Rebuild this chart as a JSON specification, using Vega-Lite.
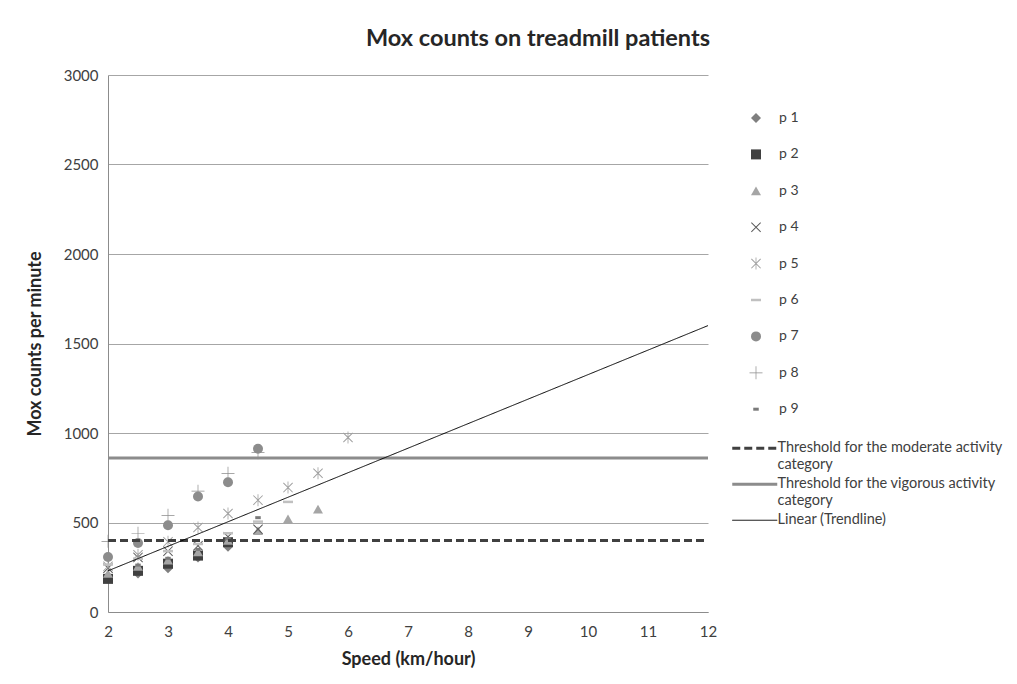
{
  "$schema": "https://vega.github.io/schema/vega-lite/v6.json",
  "autosize": {"type": "none"},
  "padding": {"left": 108, "top": 75, "right": 309, "bottom": 72},
  "width": 600,
  "height": 537,
  "background": "white",
  "config": {
    "view": {"stroke": null},
    "font": "Lato",
    "axis": {"labelFont": "Lato", "titleFont": "Lato", "labelColor": "#404040", "titleColor": "#262626"},
    "legend": {"labelFont": "Lato", "labelColor": "#404040", "labelLimit": 400}
  },
  "title": {
    "text": "Mox counts on treadmill patients",
    "fontSize": 23.5,
    "fontWeight": "bold",
    "font": "Lato",
    "color": "#262626",
    "anchor": "middle",
    "frame": "group",
    "dx": 130,
    "offset": 18
  },
  "datasets": {
    "points": [
      {"patient": "p 1", "speed": 2, "mox": 200},
      {"patient": "p 1", "speed": 2.5, "mox": 215},
      {"patient": "p 1", "speed": 3, "mox": 245},
      {"patient": "p 1", "speed": 3.5, "mox": 305},
      {"patient": "p 1", "speed": 4, "mox": 365},
      {"patient": "p 2", "speed": 2, "mox": 185},
      {"patient": "p 2", "speed": 2.5, "mox": 230},
      {"patient": "p 2", "speed": 3, "mox": 270},
      {"patient": "p 2", "speed": 3.5, "mox": 315},
      {"patient": "p 2", "speed": 4, "mox": 390},
      {"patient": "p 3", "speed": 2, "mox": 215},
      {"patient": "p 3", "speed": 2.5, "mox": 255},
      {"patient": "p 3", "speed": 3, "mox": 290},
      {"patient": "p 3", "speed": 3.5, "mox": 335},
      {"patient": "p 3", "speed": 4, "mox": 400},
      {"patient": "p 3", "speed": 4.5, "mox": 455},
      {"patient": "p 3", "speed": 5, "mox": 520},
      {"patient": "p 3", "speed": 5.5, "mox": 575},
      {"patient": "p 4", "speed": 2, "mox": 245},
      {"patient": "p 4", "speed": 2.5, "mox": 305},
      {"patient": "p 4", "speed": 3, "mox": 340},
      {"patient": "p 4", "speed": 3.5, "mox": 370},
      {"patient": "p 4", "speed": 4, "mox": 420},
      {"patient": "p 4", "speed": 4.5, "mox": 462},
      {"patient": "p 5", "speed": 2, "mox": 255},
      {"patient": "p 5", "speed": 2.5, "mox": 320},
      {"patient": "p 5", "speed": 3, "mox": 392},
      {"patient": "p 5", "speed": 3.5, "mox": 472},
      {"patient": "p 5", "speed": 4, "mox": 550},
      {"patient": "p 5", "speed": 4.5, "mox": 625},
      {"patient": "p 5", "speed": 5, "mox": 695},
      {"patient": "p 5", "speed": 5.5, "mox": 775},
      {"patient": "p 5", "speed": 6, "mox": 975},
      {"patient": "p 6", "speed": 2, "mox": 265},
      {"patient": "p 6", "speed": 2.5, "mox": 298},
      {"patient": "p 6", "speed": 3, "mox": 340},
      {"patient": "p 6", "speed": 3.5, "mox": 380},
      {"patient": "p 6", "speed": 4, "mox": 440},
      {"patient": "p 6", "speed": 4.5, "mox": 505},
      {"patient": "p 6", "speed": 5, "mox": 615},
      {"patient": "p 7", "speed": 2, "mox": 307},
      {"patient": "p 7", "speed": 2.5, "mox": 385},
      {"patient": "p 7", "speed": 3, "mox": 485},
      {"patient": "p 7", "speed": 3.5, "mox": 645},
      {"patient": "p 7", "speed": 4, "mox": 725},
      {"patient": "p 7", "speed": 4.5, "mox": 912},
      {"patient": "p 8", "speed": 2, "mox": 395},
      {"patient": "p 8", "speed": 2.5, "mox": 440},
      {"patient": "p 8", "speed": 3, "mox": 540},
      {"patient": "p 8", "speed": 3.5, "mox": 675},
      {"patient": "p 8", "speed": 4, "mox": 775},
      {"patient": "p 8", "speed": 4.5, "mox": 890},
      {"patient": "p 9", "speed": 2.5, "mox": 262},
      {"patient": "p 9", "speed": 3, "mox": 300},
      {"patient": "p 9", "speed": 3.5, "mox": 350},
      {"patient": "p 9", "speed": 4, "mox": 410},
      {"patient": "p 9", "speed": 4.5, "mox": 527}
    ],
    "lines": [
      {"series": "Threshold for the moderate activity category", "speed": 2, "mox": 400},
      {"series": "Threshold for the moderate activity category", "speed": 12, "mox": 400},
      {"series": "Threshold for the vigorous activity category", "speed": 2, "mox": 860},
      {"series": "Threshold for the vigorous activity category", "speed": 12, "mox": 860},
      {"series": "Linear (Trendline)", "speed": 2, "mox": 230},
      {"series": "Linear (Trendline)", "speed": 12, "mox": 1600}
    ]
  },
  "layer": [
    {
      "data": {"name": "points"},
      "mark": {"type": "point", "filled": true, "opacity": 1, "size": 100},
      "encoding": {
        "x": {
          "field": "speed", "type": "quantitative",
          "scale": {"domain": [2, 12], "nice": false, "zero": false},
          "axis": {
            "title": "Speed (km/hour)", "titleFontSize": 18, "titleFontWeight": "bold", "titlePadding": 11,
            "values": [2, 3, 4, 5, 6, 7, 8, 9, 10, 11, 12], "labelFontSize": 15, "labelPadding": 12,
            "ticks": false, "grid": false, "domainColor": "#8c8c8c", "labelFlush": false, "format": "d"
          }
        },
        "y": {
          "field": "mox", "type": "quantitative",
          "scale": {"domain": [0, 3000], "nice": false},
          "axis": {
            "title": "Mox counts per minute", "titleFontSize": 18, "titleFontWeight": "bold", "titlePadding": 19,
            "values": [0, 500, 1000, 1500, 2000, 2500, 3000], "labelFontSize": 15, "labelPadding": 10,
            "ticks": false, "grid": true, "gridColor": "#a6a6a6", "domainColor": "#8c8c8c", "labelFlush": false, "format": "d"
          }
        },
        "shape": {
          "field": "patient", "type": "nominal",
          "scale": {
            "domain": ["p 1", "p 2", "p 3", "p 4", "p 5", "p 6", "p 7", "p 8", "p 9"],
            "range": [
              "diamond",
              "square",
              "triangle-up",
              "M-1,-0.86L-0.86,-1L1,0.86L0.86,1ZM-1,0.86L0.86,-1L1,-0.86L-0.86,1Z",
              "M-1,-0.86L-0.86,-1L1,0.86L0.86,1ZM-1,0.86L0.86,-1L1,-0.86L-0.86,1ZM-0.08,-1.2L0.08,-1.2L0.08,1.2L-0.08,1.2Z",
              "M-1,-0.25L1,-0.25L1,0.25L-1,0.25Z",
              "circle",
              "M-0.07,-1.3L0.07,-1.3L0.07,1.3L-0.07,1.3ZM-1.3,-0.07L1.3,-0.07L1.3,0.07L-1.3,0.07Z",
              "M-0.55,-0.3L0.55,-0.3L0.55,0.3L-0.55,0.3Z"
            ]
          },
          "legend": {
            "title": null, "orient": "none", "legendX": 641, "legendY": 36,
            "labelFontSize": 14, "labelOffset": 16, "rowPadding": 22.4, "padding": 0, "symbolSize": 100
          }
        },
        "color": {
          "field": "patient", "type": "nominal",
          "scale": {
            "domain": ["p 1", "p 2", "p 3", "p 4", "p 5", "p 6", "p 7", "p 8", "p 9"],
            "range": ["#7f7f7f", "#404040", "#a5a5a5", "#595959", "#a0a0a0", "#c0c0c0", "#8c8c8c", "#8c8c8c", "#7a7a7a"]
          },
          "legend": {
            "title": null, "orient": "none", "legendX": 641, "legendY": 36,
            "labelFontSize": 14, "labelOffset": 16, "rowPadding": 22.4, "padding": 0, "symbolSize": 100
          }
        }
      }
    },
    {
      "data": {"name": "lines"},
      "mark": {"type": "line"},
      "encoding": {
        "x": {"field": "speed", "type": "quantitative"},
        "y": {"field": "mox", "type": "quantitative"},
        "stroke": {
          "field": "series", "type": "nominal",
          "scale": {
            "domain": ["Threshold for the moderate activity category", "Threshold for the vigorous activity category", "Linear (Trendline)"],
            "range": ["#404040", "#8c8c8c", "#000000"]
          },
          "legend": {
            "title": null, "orient": "none", "legendX": 639.5, "legendY": 366,
            "labelFontSize": 14.5, "labelOffset": 15.5, "rowPadding": 4, "padding": 0, "symbolSize": 100, "symbolType": "M-4.5,0L4.5,0",
            "labelExpr": "datum.label == 'Threshold for the moderate activity category' ? ['Threshold for the moderate activity', 'category'] : datum.label == 'Threshold for the vigorous activity category' ? ['Threshold for the vigorous activity', 'category'] : datum.label"
          }
        },
        "strokeDash": {
          "field": "series", "type": "nominal",
          "scale": {
            "domain": ["Threshold for the moderate activity category", "Threshold for the vigorous activity category", "Linear (Trendline)"],
            "range": [[8, 4], [1, 0], [1, 0]]
          },
          "legend": {
            "title": null, "orient": "none", "legendX": 639.5, "legendY": 366,
            "labelFontSize": 14.5, "labelOffset": 15.5, "rowPadding": 4, "padding": 0, "symbolSize": 100, "symbolType": "M-4.5,0L4.5,0",
            "labelExpr": "datum.label == 'Threshold for the moderate activity category' ? ['Threshold for the moderate activity', 'category'] : datum.label == 'Threshold for the vigorous activity category' ? ['Threshold for the vigorous activity', 'category'] : datum.label"
          }
        },
        "strokeWidth": {
          "field": "series", "type": "nominal",
          "scale": {
            "type": "ordinal",
            "domain": ["Threshold for the moderate activity category", "Threshold for the vigorous activity category", "Linear (Trendline)"],
            "range": [3, 3, 1]
          },
          "legend": {
            "title": null, "orient": "none", "legendX": 639.5, "legendY": 366,
            "labelFontSize": 14.5, "labelOffset": 15.5, "rowPadding": 4, "padding": 0, "symbolSize": 100, "symbolType": "M-4.5,0L4.5,0",
            "labelExpr": "datum.label == 'Threshold for the moderate activity category' ? ['Threshold for the moderate activity', 'category'] : datum.label == 'Threshold for the vigorous activity category' ? ['Threshold for the vigorous activity', 'category'] : datum.label"
          }
        }
      }
    }
  ]
}
